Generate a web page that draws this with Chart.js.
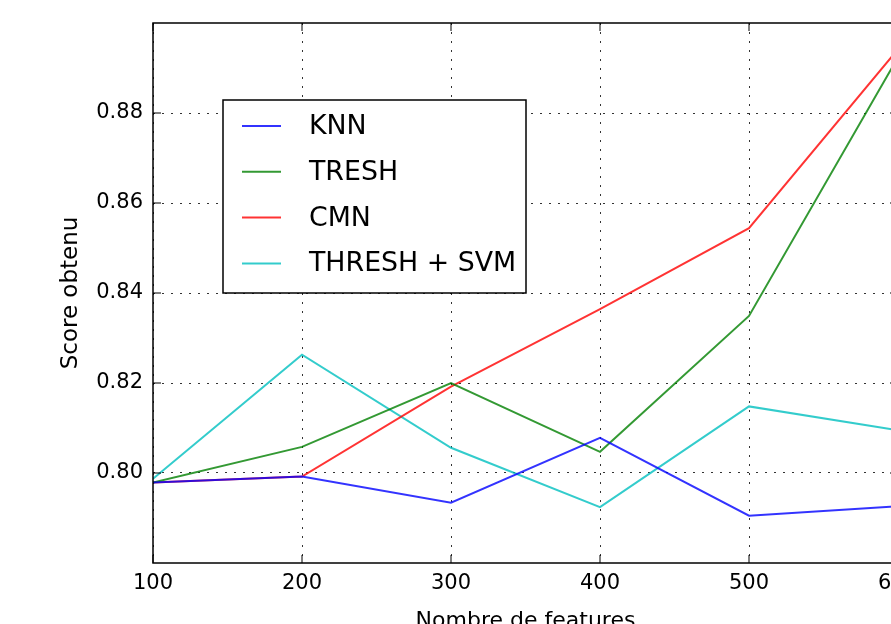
<!DOCTYPE html>
<html>
<head>
<meta charset="utf-8">
<script src="https://cdn.jsdelivr.net/npm/chart.js@4.4.1/dist/chart.umd.min.js"></script>
<style>
  html, body { margin: 0; padding: 0; background: #fff; overflow: hidden; }
  #wrap { width: 891px; height: 624px; overflow: hidden; }
</style>
</head>
<body>
<div id="wrap"><canvas id="myChart" width="1000" height="660"></canvas></div>
<script>
// nombre de features
const features = [100, 200, 300, 400, 500, 600];
const knn = [0.7979, 0.7992, 0.7934, 0.8078, 0.7905, 0.7926];
const tresh = [0.7979, 0.8058, 0.8200, 0.8047, 0.8349, 0.8924];
const cmn = [0.7979, 0.7992, 0.8192, 0.8364, 0.8544, 0.8942];
const threshSvm = [0.7987, 0.8263, 0.8056, 0.7924, 0.8148, 0.8095];
const yTicks = [0.80, 0.82, 0.84, 0.86, 0.88];

const FONT = "'DejaVu Sans', sans-serif";

function serie(label, values, color) {
  return {
    label: label,
    data: features.map((x, i) => ({ x: x, y: values[i] })),
    borderColor: color,
    borderWidth: 2,
    pointRadius: 0,
    tension: 0,
    fill: false
  };
}

// cadre + petits ticks vers l'interieur (style matplotlib)
const framePlugin = {
  id: "frame",
  afterDatasetsDraw(chart) {
    const ctx = chart.ctx;
    const a = chart.chartArea;
    const xs = chart.scales.x, ys = chart.scales.y;
    ctx.save();
    ctx.strokeStyle = "#000";
    ctx.lineWidth = 1;
    features.forEach(v => {
      const px = xs.getPixelForValue(v);
      ctx.beginPath();
      ctx.moveTo(px, a.bottom); ctx.lineTo(px, a.bottom - 8);
      ctx.moveTo(px, a.top); ctx.lineTo(px, a.top + 8);
      ctx.stroke();
    });
    yTicks.forEach(v => {
      const py = ys.getPixelForValue(v);
      ctx.beginPath();
      ctx.moveTo(a.left, py); ctx.lineTo(a.left + 8, py);
      ctx.moveTo(a.right, py); ctx.lineTo(a.right - 8, py);
      ctx.stroke();
    });
    ctx.lineWidth = 1.5;
    ctx.strokeRect(a.left, a.top, a.right - a.left, a.bottom - a.top);
    ctx.restore();
  }
};

// legende dans le graphe, comme loc='upper left' avec un petit decalage
const legendPlugin = {
  id: "boxLegend",
  afterDraw(chart) {
    const ctx = chart.ctx;
    const bx = 223, by = 100, bw = 303, bh = 193;
    ctx.save();
    ctx.fillStyle = "#fff";
    ctx.fillRect(bx, by, bw, bh);
    ctx.strokeStyle = "#000";
    ctx.lineWidth = 1.5;
    ctx.strokeRect(bx, by, bw, bh);
    ctx.font = "26.8px " + FONT;
    ctx.textBaseline = "middle";
    chart.data.datasets.forEach((ds, i) => {
      const y = by + 26 + i * 45.8;
      ctx.strokeStyle = ds.borderColor;
      ctx.lineWidth = 2;
      ctx.beginPath();
      ctx.moveTo(bx + 19, y);
      ctx.lineTo(bx + 58, y);
      ctx.stroke();
      ctx.fillStyle = "#000";
      ctx.fillText(ds.label, bx + 86, y + 1);
    });
    ctx.restore();
  }
};

new Chart(document.getElementById("myChart").getContext("2d"), {
  type: "line",
  data: {
    datasets: [
      serie("KNN", knn, "rgba(0,0,255,0.8)"),
      serie("TRESH", tresh, "rgba(0,128,0,0.8)"),
      serie("CMN", cmn, "rgba(255,0,0,0.8)"),
      serie("THRESH + SVM", threshSvm, "rgba(0,191,191,0.8)")
    ]
  },
  options: {
    responsive: false,
    animation: false,
    devicePixelRatio: 1,
    layout: { padding: { left: 0, top: 23, right: 102, bottom: 0 } },
    plugins: {
      legend: { display: false },
      tooltip: { enabled: false }
    },
    scales: {
      x: {
        type: "linear",
        min: 100,
        max: 600,
        afterBuildTicks(scale) {
          scale.ticks = features.map(v => ({ value: v }));
        },
        afterFit(scale) { scale.height = 660 - 563; },
        ticks: {
          color: "#000",
          font: { family: FONT, size: 21 },
          padding: 8,
          maxRotation: 0,
          callback: v => String(v)
        },
        grid: { color: "rgba(0,0,0,0.8)", lineWidth: 1, drawTicks: false },
        border: { display: false, dash: [2, 7] },
        title: {
          display: true,
          text: "Nombre de features",
          color: "#000",
          font: { family: FONT, size: 22 },
          padding: { top: 0, bottom: 26 }
        }
      },
      y: {
        min: 0.78,
        max: 0.90,
        afterBuildTicks(scale) {
          scale.ticks = yTicks.map(v => ({ value: v }));
        },
        afterFit(scale) { scale.width = 153; },
        ticks: {
          color: "#000",
          font: { family: FONT, size: 21 },
          padding: 10,
          callback: v => v.toFixed(2)
        },
        grid: { color: "rgba(0,0,0,0.8)", lineWidth: 1, drawTicks: false },
        border: { display: false, dash: [2, 7] },
        title: {
          display: true,
          text: "Score obtenu",
          color: "#000",
          font: { family: FONT, size: 23 },
          padding: { top: 57, bottom: 0 }
        }
      }
    }
  },
  plugins: [framePlugin, legendPlugin]
});
</script>
</body>
</html>
